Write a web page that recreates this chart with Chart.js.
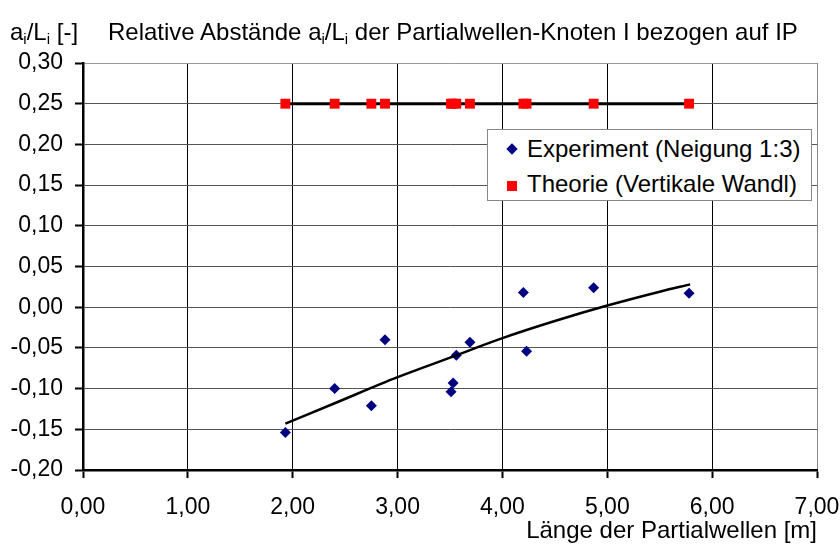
<!DOCTYPE html>
<html>
<head>
    <title>Relative Abstände</title>
    <script src="https://cdn.jsdelivr.net/npm/chart.js"></script>
    <style>
        body { margin: 0; font-family: 'Liberation Sans', Arial, sans-serif; background: #fff; }
        .wrap { position: relative; width: 840px; height: 550px; }
        .ylabel { position: absolute; left: 10px; top: 18px; font-size: 24px; color: #000; white-space: nowrap; }
        .title { position: absolute; left: 108px; top: 18px; font-size: 24px; color: #000; white-space: nowrap; }
        sub { font-size: 15px; vertical-align: -4px; line-height: 0; }
        .legend { position: absolute; left: 487px; top: 129px; width: 323px; height: 70px;
                  border: 1px solid #888; background: #fff; font-size: 24px; color: #000; }
        .row { position: absolute; left: 39px; white-space: nowrap; }
        .diamond { position: absolute; left: 20px; top: 15px; width: 8px; height: 8px; background: #000080; transform: rotate(45deg); }
        .square { position: absolute; left: 19px; top: 51px; width: 10px; height: 10px; background: #ff0000; }
    </style>
</head>
<body>
<div class="wrap">
    <canvas id="chart" width="840" height="550"></canvas>
    <div class="ylabel">a<sub>i</sub>/L<sub>i</sub> [-]</div>
    <div class="title">Relative Abstände a<sub>i</sub>/L<sub>i</sub> der Partialwellen-Knoten I bezogen auf IP</div>
    <div class="legend">
        <div class="diamond"></div>
        <div class="row" style="top: 5px;">Experiment (Neigung 1:3)</div>
        <div class="square"></div>
        <div class="row" style="top: 40px;">Theorie (Vertikale Wandl)</div>
    </div>
</div>

<script>
    // Partialwellen-Längen [m]
    const lengths = [1.93, 2.40, 2.75, 2.88, 3.51, 3.53, 3.56, 3.69, 4.20, 4.23, 4.87, 5.78];
    // gemessene a_i/L_i
    const experiment = [-0.154, -0.100, -0.121, -0.040, -0.104, -0.093, -0.059, -0.043, 0.018, -0.054, 0.024, 0.017];
    // Theorie, vertikale Wand
    const theory = [0.25, 0.25, 0.25, 0.25, 0.25, 0.25, 0.25, 0.25, 0.25, 0.25, 0.25, 0.25];
    // Trendlinie
    const trendX = [1.93, 2.40, 3.00, 3.50, 4.00, 4.50, 5.00, 5.50, 5.79];
    const trendY = [-0.143, -0.118, -0.086, -0.062, -0.038, -0.017, 0.002, 0.019, 0.028];

    const xTicks = [0, 1, 2, 3, 4, 5, 6, 7];
    const yMin = -0.20, yMax = 0.30, yStep = 0.05;

    const pts = (xs, ys) => xs.map((x, i) => ({ x: x, y: ys[i] }));
    const fmt = v => Number(v).toFixed(2).replace('.', ',');
    const tickFont = { family: "'Liberation Sans', Arial, sans-serif", size: 23 };
    const titleFont = { family: "'Liberation Sans', Arial, sans-serif", size: 24 };

    new Chart(document.getElementById('chart'), {
        type: 'scatter',
        data: {
            datasets: [
                {
                    label: 'Experiment (Neigung 1:3)',
                    data: pts(lengths, experiment),
                    pointStyle: 'rectRot',
                    pointRadius: 5.5,
                    backgroundColor: '#000080',
                    borderColor: '#000080',
                    borderWidth: 0,
                    order: 2
                },
                {
                    label: 'Trend',
                    data: pts(trendX, trendY),
                    showLine: true,
                    pointRadius: 0,
                    borderColor: '#000',
                    borderWidth: 2.5,
                    cubicInterpolationMode: 'monotone',
                    order: 1
                },
                {
                    label: 'Theorie (Vertikale Wandl)',
                    data: pts(lengths, theory),
                    showLine: true,
                    borderColor: '#000',
                    borderWidth: 3,
                    pointStyle: 'rect',
                    pointRadius: 7,
                    pointBackgroundColor: '#ff0000',
                    pointBorderColor: '#ff0000',
                    pointBorderWidth: 0,
                    order: 0
                }
            ]
        },
        options: {
            responsive: false,
            animation: false,
            layout: { padding: { top: 63, right: 23, left: 0, bottom: 0 } },
            plugins: { legend: { display: false }, tooltip: { enabled: false } },
            scales: {
                x: {
                    type: 'linear',
                    min: 0, max: 7,
                    afterBuildTicks: s => { s.ticks = xTicks.map(v => ({ value: v })); },
                    afterFit: s => { s.height = 80; s.paddingLeft = 0; s.paddingRight = 0; },
                    ticks: { font: tickFont, color: '#000', padding: 16, maxRotation: 0, callback: fmt },
                    grid: {
                        color: c => c.index === xTicks.length - 1 ? '#888' : '#000',
                        lineWidth: 1,
                        tickLength: 8, tickColor: '#000', tickWidth: 2
                    },
                    border: { color: '#000', width: 2.5 },
                    title: { display: true, text: 'Länge der Partialwellen [m]', align: 'end', font: titleFont, color: '#000', padding: { top: -5 } }
                },
                y: {
                    min: yMin, max: yMax,
                    ticks: { stepSize: yStep, font: tickFont, color: '#000', padding: 12, callback: fmt },
                    afterFit: s => { s.width = 83; },
                    grid: {
                        color: c => c.index === 10 ? '#999' : '#555',
                        lineWidth: 1,
                        tickLength: 8, tickColor: '#000', tickWidth: 2
                    },
                    border: { color: '#000', width: 2.5 }
                }
            }
        }
    });
</script>
</body>
</html>
